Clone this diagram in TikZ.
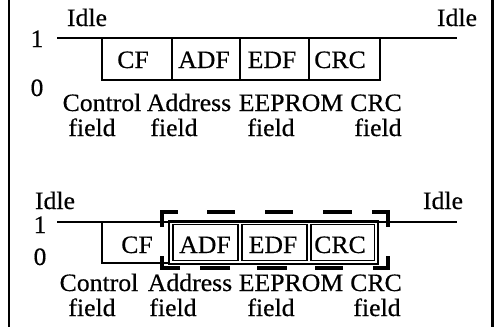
\documentclass[tikz,border=0pt]{standalone}
\usepackage{fontspec}
\setmainfont[FakeBold=0.4,FakeStretch=1.03]{Liberation Serif}
\begin{document}
\begin{tikzpicture}[x=1pt,y=-1pt,
  txt/.style={anchor=base,inner sep=0pt,font=\fontsize{25}{28}\selectfont},
  sig/.style={line width=2pt},
  boxline/.style={line width=1.8pt},
  thinbox/.style={line width=1.1pt},
  bigdash/.style={line width=4.5pt,line cap=butt,line join=miter},
  frame/.style={line width=2.5pt}]
\useasboundingbox (0,0) rectangle (495,327);
% side frame
\draw[frame] (9,0) -- (9,327);
\draw[frame] (492.5,0) -- (492.5,327);

% ---------- top diagram ----------
\node[txt] (idleL1) at (87,26) {Idle};
\node[txt] (idleR1) at (457,26) {Idle};
\node[txt] (one1) at (37,47) {1};
\node[txt] (zero1) at (37,96) {0};
\coordinate (s1a) at (57,38);
\coordinate (s1b) at (457,38);
\draw[sig] (s1a) -- (s1b);
\draw[boxline] (102,38) -- (102,80) -- (380,80) -- (380,38);
\draw[boxline] (172,38) -- (172,80);
\draw[boxline] (240,38) -- (240,80);
\draw[boxline] (309,38) -- (309,80);
\node[txt] (cf1) at (133,68) {CF};
\node[txt] (adf1) at (204,68) {ADF};
\node[txt] (edf1) at (272,68) {EDF};
\node[txt] (crc1) at (340,68) {CRC};
\node[txt] (ctl1) at (102,111) {Control};
\node[txt] (adr1) at (189,111) {Address};
\node[txt] (eep1) at (291,111) {EEPROM};
\node[txt] (crcl1) at (376,111) {CRC};
\node[txt] (f11) at (92,136) {field};
\node[txt] (f12) at (174,136) {field};
\node[txt] (f13) at (271,136) {field};
\node[txt] (f14) at (378,136) {field};

% ---------- bottom diagram ----------
\node[txt] (idleL2) at (55,209) {Idle};
\node[txt] (idleR2) at (443,209) {Idle};
\node[txt] (one2) at (40,233) {1};
\node[txt] (zero2) at (40,265) {0};
\coordinate (s2a) at (57,222);
\coordinate (s2b) at (457,222);
\draw[sig] (s2a) -- (s2b);
\draw[boxline] (102,222) -- (102,263) -- (169,263);
\draw[thinbox] (169,221) rectangle (378,264);
\draw[thinbox] (173,224.5) rectangle (238,260.5);
\draw[thinbox] (242,224.5) rectangle (307,260.5);
\draw[thinbox] (311,224.5) rectangle (374.5,260.5);
% thick dashed frame
\draw[bigdash] (162,227) -- (162,212) -- (178,212);
\draw[bigdash] (372,212) -- (388,212) -- (388,227);
\draw[bigdash] (162,256) -- (162,268) -- (180,268);
\draw[bigdash] (373,268) -- (388,268) -- (388,256);
\draw[bigdash] (207,212) -- (235,212);
\draw[bigdash] (265,212) -- (293,212);
\draw[bigdash] (323,212) -- (352,212);
\draw[bigdash] (200,268) -- (230,268);
\draw[bigdash] (257,268) -- (287,268);
\draw[bigdash] (315,268) -- (343,268);
\node[txt] (cf2) at (137,253) {CF};
\node[txt] (adf2) at (205,253) {ADF};
\node[txt] (edf2) at (273,253) {EDF};
\node[txt] (crc2) at (340,253) {CRC};
\node[txt] (ctl2) at (99,291) {Control};
\node[txt] (adr2) at (190,291) {Address};
\node[txt] (eep2) at (291,291) {EEPROM};
\node[txt] (crcl2) at (376,291) {CRC};
\node[txt] (f21) at (92,316) {field};
\node[txt] (f22) at (173,316) {field};
\node[txt] (f23) at (271,316) {field};
\node[txt] (f24) at (377,316) {field};
\end{tikzpicture}
\end{document}
